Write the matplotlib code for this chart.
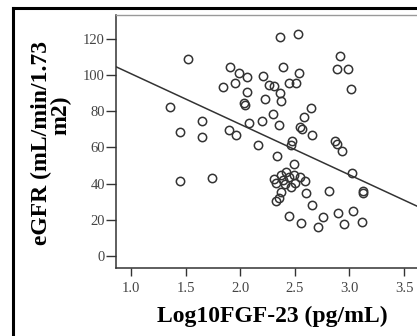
import numpy as np
import matplotlib
matplotlib.use('Agg')
import matplotlib.pyplot as plt
from matplotlib.lines import Line2D

# Log10 FGF-23 (x) and eGFR (y)
log_fgf23 = [1.522, 1.357, 1.650, 1.449, 1.650, 1.449, 1.742,
             2.364, 2.529, 1.907, 1.989, 2.062, 1.842, 1.952, 2.209, 2.392, 2.538,
             2.264, 2.310, 2.447, 2.511, 2.364, 2.374, 2.062, 2.035, 2.044, 2.227,
             2.648, 2.584, 2.300, 2.081, 2.200, 2.355, 2.548, 2.566, 1.897, 1.962,
             2.658, 2.163, 2.474, 2.465, 2.337, 2.493, 2.419, 2.374,
             2.914, 2.886, 2.987, 3.015, 2.868, 2.886, 2.932, 3.024,
             2.310, 2.328, 2.392, 2.447, 2.493, 2.548, 2.593, 2.502, 2.465, 2.410,
             2.374, 2.355, 2.328, 2.603, 2.658, 2.447, 2.557, 2.712, 2.758, 2.813,
             3.125, 3.125, 2.896, 3.033, 2.951, 3.115]
egfr = [108.7, 82.2, 74.5, 68.4, 65.7, 41.4, 43.0,
        120.9, 122.5, 104.3, 101.0, 98.8, 93.3, 95.5, 99.3, 104.3, 101.0,
        94.4, 93.8, 95.5, 95.5, 90.0, 85.5, 90.5, 84.4, 83.3, 86.6,
        81.7, 76.7, 78.4, 73.4, 74.5, 72.3, 71.2, 70.1, 69.5, 66.8,
        66.8, 61.3, 63.5, 61.3, 55.2, 50.8, 46.4, 44.7,
        110.4, 103.2, 103.2, 92.2, 63.5, 61.8, 57.9, 45.8,
        42.5, 40.3, 41.9, 43.6, 44.7, 43.6, 41.4, 40.3, 38.1, 39.7,
        35.3, 32.0, 30.4, 34.8, 28.1, 22.1, 18.2, 16.0, 21.5, 35.9,
        35.9, 34.8, 23.7, 24.8, 17.7, 18.8]

# fit line as drawn
fit_intercept = 128.5
fit_slope = -27.9

x_ticks = [1.0, 1.5, 2.0, 2.5, 3.0, 3.5]
y_ticks = [0, 20, 40, 60, 80, 100, 120]

serif = ['Liberation Serif', 'DejaVu Serif']

fig = plt.figure(figsize=(4.17, 3.36), dpi=100)
fig.patch.set_facecolor('white')

W, H = 417.0, 336.0
ax = fig.add_axes([116 / W, 1 - 268 / H, (430 - 116) / W, (268 - 15) / H])

ax.plot(log_fgf23, egfr, linestyle='none', marker='o', ms=6.0,
        mfc='none', mec='#333333', mew=1.1)
ax.axline((0, fit_intercept), slope=fit_slope, color='#333333', lw=1.1)

ax.set_xlim(0.8626, 3.738)
ax.set_ylim(-6.6, 133.0)
ax.set_xticks(x_ticks)
ax.set_yticks(y_ticks)
ax.set_xticklabels([f'{t:.1f}' for t in x_ticks], family=serif, fontsize=10.5, color='#444444')
ax.set_yticklabels([str(t) for t in y_ticks], family=serif, fontsize=10.5, color='#444444')
ax.tick_params(axis='y', length=7, width=1.0, pad=1, color='#333333')
ax.tick_params(axis='x', length=6, width=1.0, pad=4, color='#333333')

for s in ['left', 'bottom']:
    ax.spines[s].set_color('#333333')
    ax.spines[s].set_linewidth(1.1)
ax.spines['top'].set_color('#999999')
ax.spines['top'].set_linewidth(1.0)
ax.spines['right'].set_visible(False)

# axis titles
fig.text(272 / W, 1 - 316 / H, 'Log10FGF-23 (pg/mL)', family=serif, fontsize=17,
         fontweight='bold', ha='center', va='center')
fig.text(41 / W, 1 - 143 / H, 'eGFR (mL/min/1.73', family=serif, fontsize=17,
         fontweight='bold', rotation=90, ha='center', va='center')
fig.text(61 / W, 1 - 115 / H, 'm2)', family=serif, fontsize=17,
         fontweight='bold', rotation=90, ha='center', va='center')

# outer frame (cropped)
fig.add_artist(Line2D([13 / W, 13 / W], [0, 1 - 8 / H], transform=fig.transFigure,
                      color='black', lw=2.2))
fig.add_artist(Line2D([13 / W, 1.0], [1 - 8 / H, 1 - 8 / H], transform=fig.transFigure,
                      color='black', lw=2.2))

fig.savefig('out.png', dpi=100)
